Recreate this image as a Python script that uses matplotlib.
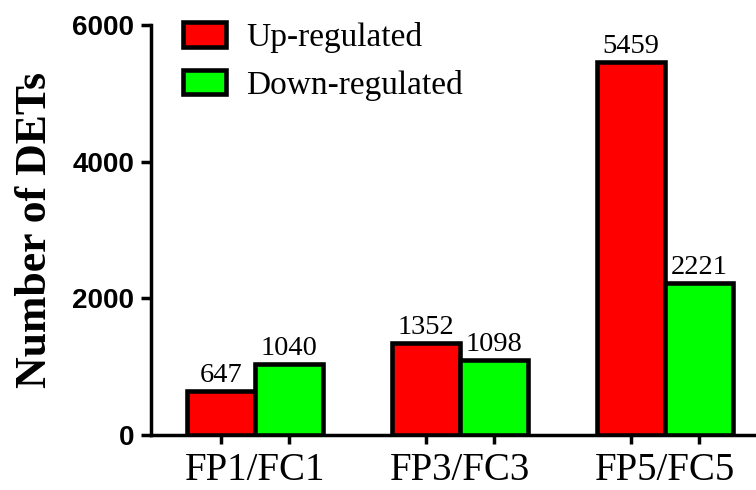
import matplotlib
matplotlib.use("Agg")
import matplotlib.pyplot as plt
import numpy as np

# data
groups = ["FP1/FC1", "FP3/FC3", "FP5/FC5"]
up_counts = [647, 1352, 5459]
down_counts = [1040, 1098, 2221]
y_ticks = [0, 2000, 4000, 6000]

serif = "Liberation Serif"
sans = "Liberation Sans"

fig = plt.figure(figsize=(7.56, 4.90), dpi=100)
ax = fig.add_axes([151 / 756, 55 / 490, 605 / 756, 410 / 490])

x = np.arange(len(groups))
w = 0.332
bars_up = ax.bar(x - w / 2, up_counts, w, color="#ff0000", edgecolor="black",
                 linewidth=3.3, label="Up-regulated", zorder=3)
bars_down = ax.bar(x + w / 2, down_counts, w, color="#00ff00", edgecolor="black",
                   linewidth=3.3, label="Down-regulated", zorder=3)

for bars in (bars_up, bars_down):
    ax.bar_label(bars, padding=2, fontsize=20.5, family=serif)

ax.set_xlim(-0.507, 2.444)
ax.set_ylim(0, 6000)
ax.set_yticks(y_ticks)
ax.set_xticks(np.concatenate([x - w / 2, x + w / 2]), minor=True)
ax.set_xticks(x)
ax.set_xticklabels(groups, fontsize=28, family=serif)
ax.tick_params(axis="x", which="major", length=0, pad=12)
ax.tick_params(axis="x", which="minor", length=6.5, width=2.5)
for lab in ax.get_yticklabels():
    lab.set_family(sans)
    lab.set_fontweight("bold")
    lab.set_fontsize(20)
ax.tick_params(axis="y", length=7, width=2.5, pad=5)

ax.set_ylabel("Number of DETs", fontsize=31.5, family=serif, fontweight="bold")
ax.yaxis.set_label_coords(-0.158, 0.5)

for side in ("top", "right"):
    ax.spines[side].set_visible(False)
for side in ("left", "bottom"):
    ax.spines[side].set_linewidth(2.5)

fig.legend(handles=[bars_up, bars_down], loc="upper left",
           bbox_to_anchor=(183 / 756, 1 - 22 / 490), frameon=False,
           prop={"family": serif, "size": 24}, borderpad=0, borderaxespad=0,
           handlelength=1.3, handleheight=0.75, handletextpad=0.6,
           labelspacing=0.5)

fig.savefig("out.png", dpi=100)
